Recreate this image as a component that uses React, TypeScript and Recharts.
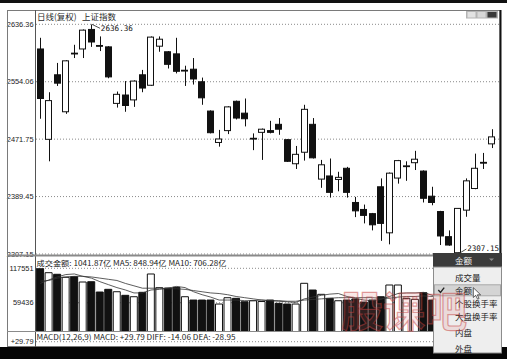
import {
  Bar,
  CartesianGrid,
  Cell,
  ComposedChart,
  Line,
  ReferenceDot,
  XAxis,
  YAxis
} from 'recharts'

// 上证指数 daily candles (复权)
const openPrices = [
  2601, 2471.5, 2564, 2511, 2595, 2601, 2629, 2606, 2604, 2523,
  2535, 2528, 2564, 2549, 2605, 2597, 2594, 2570, 2572, 2554,
  2512, 2467, 2484, 2526, 2509, 2472.5, 2481.5, 2484, 2493, 2471,
  2436.5, 2453, 2493, 2414.5, 2419, 2414, 2430, 2381, 2371, 2365,
  2403.5, 2337.5, 2416, 2433, 2438, 2426, 2390, 2368, 2332, 2309,
  2370, 2401, 2438.5, 2465
]
const closePrices = [
  2530, 2527, 2552, 2584, 2594.5, 2628, 2611, 2605, 2561, 2536,
  2520, 2555, 2545, 2618, 2615, 2579, 2569, 2570.5, 2558, 2531,
  2481, 2472, 2518, 2502, 2501, 2473, 2486, 2481.5, 2486, 2440,
  2450, 2514.5, 2445, 2435, 2395.5, 2417, 2395.5, 2369, 2362.5, 2349,
  2351, 2423, 2441, 2433.5, 2443, 2387, 2381, 2333, 2320, 2372.5,
  2412, 2430, 2438, 2475
]
const highPrices = [
  2617, 2539, 2581, 2585, 2607, 2629, 2636.36, 2619, 2605, 2540,
  2555, 2556, 2571, 2619, 2619, 2598, 2617, 2577, 2588, 2560,
  2513, 2485, 2519, 2527, 2530, 2480, 2487, 2498, 2502, 2472,
  2462, 2521, 2502, 2442, 2444, 2425, 2432, 2389, 2378, 2366,
  2415.5, 2424, 2442, 2440, 2455, 2427, 2403.5, 2369, 2341, 2373,
  2415.5, 2451, 2452, 2486
]
const lowPrices = [
  2501, 2440, 2548, 2508, 2588, 2588, 2604, 2598, 2559, 2517,
  2511, 2518, 2539, 2548, 2597, 2573, 2566, 2548, 2550, 2521,
  2480, 2461, 2479, 2500, 2490, 2456, 2442, 2480, 2478, 2439,
  2429, 2441, 2444, 2402, 2388, 2397, 2388, 2360, 2351, 2341,
  2326, 2321, 2408, 2412, 2427.5, 2381, 2377, 2320, 2319, 2307.15,
  2360.5, 2400, 2429, 2459
]

// 成交金额 (百万) and its moving averages
const amounts = [
  117551, 110149, 107446, 102378, 103391, 94437, 94944, 77543, 82105, 78050,
  71968, 69603, 77037, 107953, 84808, 84301, 85484, 69603, 64028, 64028,
  64028, 57271, 67914, 66900, 61156, 62846, 61494, 64028, 58453, 57271,
  57271, 92241, 80922, 73658, 66900, 62846, 64028, 65718, 60650, 64028,
  69603, 89369, 89369, 66900, 65211, 76361, 64028, 40000, 36210, 70000,
  80000, 85000, 85283, 104187
]
const amountMa5 = [
  92000, 98000, 103000, 107000, 108000, 104000, 101000, 95000, 90000, 85000,
  81000, 76000, 76000, 81000, 82000, 84000, 87000, 85000, 78000, 73000,
  69000, 64000, 64000, 64000, 63000, 63000, 64000, 63000, 62000, 61000,
  60000, 66000, 69000, 72000, 74000, 75000, 70000, 67000, 64000, 63000,
  65000, 70000, 75000, 76000, 76000, 77000, 72000, 62000, 52000, 51000,
  57000, 63000, 75000, 84894
]
const amountMa10 = [
  96000, 97000, 101000, 103000, 104000, 104000, 103000, 101000, 99000, 97000,
  92000, 88000, 84000, 84000, 84000, 83000, 83000, 82000, 80000, 78000,
  76000, 75000, 73000, 70000, 68000, 66000, 64000, 63000, 63000, 62000,
  62000, 64000, 65000, 66000, 67000, 68000, 68000, 68000, 68000, 68000,
  67000, 67000, 69000, 70000, 70000, 71000, 70000, 69000, 64000, 64000,
  64000, 63000, 64000, 70628
]

const priceTicks = [2636.36, 2554.06, 2471.75, 2389.45, 2307.15]
const amountTicks = [117551, 59436]
const macdTicks = [29.79]

const rows = openPrices.map((open, i) => ({
  day: i + 1,
  open,
  close: closePrices[i],
  high: highPrices[i],
  low: lowPrices[i],
  amount: amounts[i],
  ma5: amountMa5[i],
  ma10: amountMa10[i]
}))

const peakIdx = highPrices.indexOf(Math.max(...highPrices))
const troughIdx = lowPrices.indexOf(Math.min(...lowPrices))

const axisFont = { fontSize: 7.4, fill: '#1a1a1a', fontFamily: 'Liberation Sans' }
const cjk = '"Noto Sans CJK SC", "DejaVu Sans", sans-serif'

function Candle(props: any) {
  const { x, y, width, height, payload } = props
  if (!payload) return null
  const { open, close, high, low } = payload
  const top = Math.min(y, y + height)
  const span = Math.abs(height)
  const k = high > low ? span / (high - low) : 0
  const toY = (v: number) => top + (high - v) * k
  const cx = Math.round(x + width / 2) + 0.5
  const left = Math.round(x) + 0.5
  const w = Math.round(width) - 1
  const bodyTop = toY(Math.max(open, close))
  const bodyH = Math.max(toY(Math.min(open, close)) - bodyTop, 0.8)
  const rising = close >= open
  return (
    <g>
      <line x1={cx} x2={cx} y1={top} y2={top + span} stroke="#111" strokeWidth={1} />
      <rect
        x={left}
        y={bodyTop}
        width={w}
        height={bodyH}
        fill={rising ? '#fff' : '#111'}
        stroke="#111"
        strokeWidth={1}
      />
    </g>
  )
}

// extreme-value tag: short leader line + price text
function ExtremeTag({ viewBox, text, below }: any) {
  if (!viewBox) return null
  const cx = viewBox.x + viewBox.width / 2
  const cy = viewBox.y + viewBox.height / 2
  const dy = below ? 4 : -5
  return (
    <g>
      <line x1={cx + 0.5} y1={cy} x2={cx + 8.7} y2={cy + dy} stroke="#222" strokeWidth={0.8} />
      <text
        x={cx + 9.5}
        y={cy + dy + (below ? 0.6 : -1)}
        dominantBaseline="central"
        fontSize={7.6}
        fontFamily="DejaVu Sans Mono"
        fill="#111"
      >
        {text}
      </text>
    </g>
  )
}

function CandlePanel() {
  return (
    <ComposedChart
      width={507}
      height={260}
      data={rows}
      margin={{ top: 24.3, right: 7, bottom: 6, left: 0 }}
      barCategoryGap="7%"
    >
      <CartesianGrid vertical={false} stroke="#8a8a8a" strokeDasharray="1 2" />
      <XAxis dataKey="day" hide padding={{ left: 0, right: 4 }} />
      <YAxis
        width={36}
        domain={[2307.15, 2636.36]}
        ticks={priceTicks}
        allowDataOverflow
        tickFormatter={(v: number) => v.toFixed(2)}
        tick={axisFont}
        tickLine={false}
        axisLine={false}
        tickSize={0}
        tickMargin={2.5}
      />
      <Bar
        dataKey={(d: any) => [d.low, d.high]}
        shape={<Candle />}
        isAnimationActive={false}
      />
      <ReferenceDot
        x={rows[peakIdx].day}
        y={highPrices[peakIdx]}
        r={1}
        fill="none"
        stroke="none"
        ifOverflow="visible"
        label={<ExtremeTag text={highPrices[peakIdx].toFixed(2)} below />}
      />
      <ReferenceDot
        x={rows[troughIdx].day}
        y={lowPrices[troughIdx]}
        r={1}
        fill="none"
        stroke="none"
        ifOverflow="visible"
        label={<ExtremeTag text={lowPrices[troughIdx].toFixed(2)} />}
      />
    </ComposedChart>
  )
}

function AmountPanel() {
  return (
    <ComposedChart
      width={507}
      height={82}
      data={rows}
      margin={{ top: 12.3, right: 7, bottom: 0, left: 0 }}
      barCategoryGap="7%"
    >
      <CartesianGrid vertical={false} stroke="#8a8a8a" strokeDasharray="1 2" />
      <XAxis dataKey="day" hide padding={{ left: 0, right: 4 }} />
      <YAxis
        width={36}
        domain={[0, 117551]}
        ticks={amountTicks}
        allowDataOverflow
        tick={axisFont}
        tickLine={false}
        axisLine={false}
        tickSize={0}
        tickMargin={2.5}
      />
      <Bar dataKey="amount" stroke="#111" strokeWidth={1} isAnimationActive={false}>
        {rows.map((r) => (
          <Cell key={r.day} fill={r.close >= r.open ? '#fff' : '#111'} />
        ))}
      </Bar>
      <Line dataKey="ma5" stroke="#333" strokeWidth={0.8} dot={false} isAnimationActive={false} />
      <Line dataKey="ma10" stroke="#333" strokeWidth={0.8} dot={false} isAnimationActive={false} />
    </ComposedChart>
  )
}

function MacdPanel() {
  return (
    <ComposedChart
      width={507}
      height={60}
      data={rows}
      margin={{ top: 9.7, right: 7, bottom: 0, left: 0 }}
    >
      <CartesianGrid vertical={false} stroke="#8a8a8a" strokeDasharray="1 2" />
      <XAxis dataKey="day" hide padding={{ left: 0, right: 4 }} />
      <YAxis
        width={36}
        domain={[-29.79, 29.79]}
        ticks={macdTicks}
        allowDataOverflow
        tickFormatter={(v: number) => '+' + v.toFixed(2)}
        tick={axisFont}
        tickLine={false}
        axisLine={false}
        tickSize={0}
        tickMargin={2.5}
      />
    </ComposedChart>
  )
}

const menuItems = [
  { label: '成交量', y: 277 },
  { label: '金额', y: 290.3 },
  { label: '个股换手率', y: 303 },
  { label: '大盘换手率', y: 316.3 },
  { label: '内盘', y: 332 },
  { label: '外盘', y: 348 }
]

export default function App() {
  return (
    <div
      style={{
        position: 'fixed',
        left: 0,
        top: 0,
        width: 507,
        height: 359,
        background: '#fff',
        overflow: 'hidden'
      }}
    >
      <div style={{ position: 'absolute', left: 0, top: 0 }}>
        <CandlePanel />
      </div>
      <div style={{ position: 'absolute', left: 0, top: 256, width: 507, height: 75, overflow: 'hidden' }}>
        <AmountPanel />
      </div>
      <div style={{ position: 'absolute', left: 0, top: 332, width: 507, height: 14, overflow: 'hidden' }}>
        <MacdPanel />
      </div>

      <svg width={507} height={359} style={{ position: 'absolute', left: 0, top: 0 }}>
        {/* window frame */}
        <rect x={0} y={0} width={507} height={3} fill="#111" />
        <rect x={0} y={347} width={507} height={12} fill="#050505" />
        <rect x={7.5} y={10.5} width={492.5} height={336} fill="none" stroke="#7a7a7a" />
        <line x1={500.5} x2={500.5} y1={10} y2={347} stroke="#111" strokeWidth={2} />
        <line x1={35.5} x2={35.5} y1={10} y2={347} stroke="#555" />
        <line x1={7} x2={500} y1={255.5} y2={255.5} stroke="#8a8a8a" strokeWidth={2} />
        <line x1={7} x2={500} y1={331.5} y2={331.5} stroke="#8a8a8a" />

        {/* toolbar buttons */}
        <rect x={466} y={11} width={32} height={7.5} fill="#b4b4b4" />
        <rect x={467.5} y={12} width={8} height={5.5} fill="#e2e2e2" />
        <rect x={477.5} y={12} width={8} height={5.5} fill="#d8d8d8" />
        <rect x={487.5} y={12} width={9} height={5.5} fill="#3a3a3a" />

        {/* panel headers */}
        <text x={37} y={16} dominantBaseline="central" fontSize={8.5} fontFamily={cjk} fill="#2a2a2a">
          日线(复权)
        </text>
        <text x={82} y={16} dominantBaseline="central" fontSize={8.5} fontFamily={cjk} fill="#2a2a2a">
          上证指数
        </text>
        <text
          x={36.5}
          y={262}
          dominantBaseline="central"
          fontSize={7.4}
          fontFamily={cjk}
          fill="#222"
          textLength={190}
          lengthAdjust="spacingAndGlyphs"
        >
          成交金额: 1041.87亿 MA5: 848.94亿 MA10: 706.28亿
        </text>
        <text
          x={36.5}
          y={337}
          dominantBaseline="central"
          fontSize={7.2}
          fontFamily={cjk}
          fill="#222"
          textLength={199}
          lengthAdjust="spacingAndGlyphs"
        >
          MACD(12,26,9) MACD: +29.79 DIFF: -14.06 DEA: -28.95
        </text>

        {/* indicator drop-down menu */}
        <rect x={433} y={253} width={69} height={14} fill="#3b3b3b" />
        <text x={455} y={260} dominantBaseline="central" fontSize={8.5} fontFamily={cjk} fill="#f4f4f4">
          金额
        </text>
        <path d="M489 258.5 L494 258.5 L491.5 261 Z" fill="#8a8a8a" />
        <rect x={433.5} y={267} width={68} height={86} fill="#eeeeee" stroke="#8c8c8c" />
        <rect x={434.5} y={284.8} width={66} height={11} fill="#d4d4d4" stroke="#a8a8a8" />
        <path d="M438.3 290 L440.5 292.4 L444.2 287.6" fill="none" stroke="#222" strokeWidth={1.4} />
        {menuItems.map((m) => (
          <text
            key={m.label}
            x={455}
            y={m.y}
            dominantBaseline="central"
            fontSize={8.5}
            fontFamily={cjk}
            fill="#222"
          >
            {m.label}
          </text>
        ))}
        <path
          d="M473.3 287.7 L473.3 297.5 L475.7 295.3 L477.6 299.2 L479.1 298.5 L477.3 294.8 L480.6 294.8 Z"
          fill="#fff"
          stroke="#222"
          strokeWidth={0.7}
        />

        {/* site watermark */}
        <text
          x={341}
          y={308}
          dominantBaseline="central"
          fontSize={42}
          fontWeight={700}
          fontFamily={cjk}
          fill="rgba(220,110,110,0.16)"
          stroke="rgba(196,64,64,0.5)"
          strokeWidth={1.2}
        >
          股课吧
        </text>
      </svg>
    </div>
  )
}
